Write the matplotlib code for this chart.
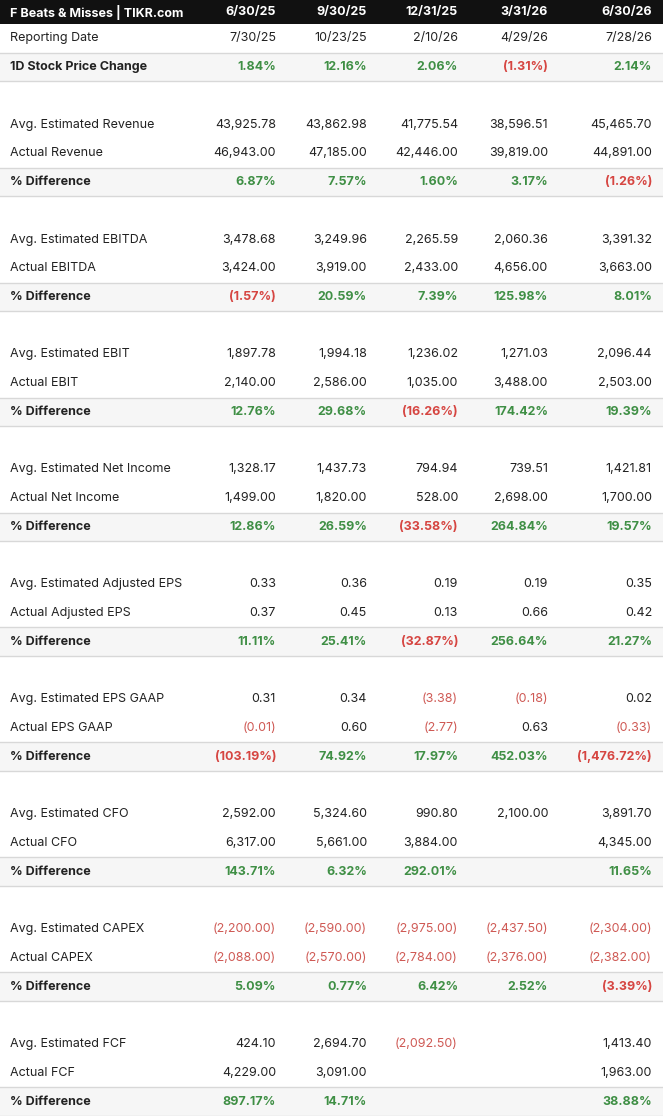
import matplotlib
matplotlib.use('Agg')
import matplotlib.pyplot as plt

# Данные таблицы
title = 'F Beats & Misses | TIKR.com'
periods = ['6/30/25', '9/30/25', '12/31/25', '3/31/26', '6/30/26']
report_dates = ['7/30/25', '10/23/25', '2/10/26', '4/29/26', '7/28/26']
price_change = [1.84, 12.16, 2.06, -1.31, 2.14]

metrics = ['Revenue', 'EBITDA', 'EBIT', 'Net Income', 'Adjusted EPS',
           'EPS GAAP', 'CFO', 'CAPEX', 'FCF']
estimated = [
    [43925.78, 43862.98, 41775.54, 38596.51, 45465.70],
    [3478.68, 3249.96, 2265.59, 2060.36, 3391.32],
    [1897.78, 1994.18, 1236.02, 1271.03, 2096.44],
    [1328.17, 1437.73, 794.94, 739.51, 1421.81],
    [0.33, 0.36, 0.19, 0.19, 0.35],
    [0.31, 0.34, -3.38, -0.18, 0.02],
    [2592.00, 5324.60, 990.80, 2100.00, 3891.70],
    [-2200.00, -2590.00, -2975.00, -2437.50, -2304.00],
    [424.10, 2694.70, -2092.50, None, 1413.40],
]
actual = [
    [46943.00, 47185.00, 42446.00, 39819.00, 44891.00],
    [3424.00, 3919.00, 2433.00, 4656.00, 3663.00],
    [2140.00, 2586.00, 1035.00, 3488.00, 2503.00],
    [1499.00, 1820.00, 528.00, 2698.00, 1700.00],
    [0.37, 0.45, 0.13, 0.66, 0.42],
    [-0.01, 0.60, -2.77, 0.63, -0.33],
    [6317.00, 5661.00, 3884.00, None, 4345.00],
    [-2088.00, -2570.00, -2784.00, -2376.00, -2382.00],
    [4229.00, 3091.00, None, None, 1963.00],
]
pct_diff = [
    [6.87, 7.57, 1.60, 3.17, -1.26],
    [-1.57, 20.59, 7.39, 125.98, 8.01],
    [12.76, 29.68, -16.26, 174.42, 19.39],
    [12.86, 26.59, -33.58, 264.84, 19.57],
    [11.11, 25.41, -32.87, 256.64, 21.27],
    [-103.19, 74.92, 17.97, 452.03, -1476.72],
    [143.71, 6.32, 292.01, None, 11.65],
    [5.09, 0.77, 6.42, 2.52, -3.39],
    [897.17, 14.71, None, None, 38.88],
]

# Оформление
W, H = 663, 1116
head_h = 24
row_h = (H - head_h) / 38
col_right = [276, 367, 458, 548, 652]
label_x = 10
txt = '#222222'
green = '#3f8f45'
red = '#d64541'
red_light = '#cf5a55'
band = '#f6f6f6'
line_c = '#d8d8d8'

plt.rcParams['font.family'] = ['Inter', 'DejaVu Sans']
fs = 9.0

fig = plt.figure(figsize=(W / 100, H / 100), dpi=100)
ax = fig.add_axes([0, 0, 1, 1])
ax.set_xlim(0, W)
ax.set_ylim(H, 0)
ax.axis('off')


def fmt(v, pct=False):
    if v is None:
        return ''
    s = f'{abs(v):,.2f}' + ('%' if pct else '')
    return f'({s})' if v < 0 else s


def shaded(y0):
    ax.add_patch(plt.Rectangle((0, y0), W, row_h, color=band, lw=0, zorder=0))
    ax.plot([0, W], [y0, y0], color=line_c, lw=1, zorder=1)
    ax.plot([0, W], [y0 + row_h, y0 + row_h], color=line_c, lw=1, zorder=1)


def row(i, label, vals, kind):
    y0 = head_h + i * row_h
    yc = y0 + row_h / 2
    bold = kind == 'pct'
    if bold:
        shaded(y0)
    ax.text(label_x, yc, label, ha='left', va='center', fontsize=fs,
            color=txt, fontweight='bold' if bold else 'normal')
    for x, v in zip(col_right, vals):
        if kind == 'str':
            s, c = v, txt
        elif kind == 'pct':
            s = fmt(v, True)
            c = green if (v is not None and v >= 0) else red
        else:
            s = fmt(v)
            c = red_light if (v is not None and v < 0) else txt
        ax.text(x, yc, s, ha='right', va='center', fontsize=fs, color=c,
                fontweight='bold' if bold else 'normal')


# Шапка
ax.add_patch(plt.Rectangle((0, 0), W, head_h, color='#111111', lw=0))
ax.text(label_x, head_h / 2, title, ha='left', va='center', fontsize=fs,
        color='white', fontweight='bold')
for x, p in zip(col_right, periods):
    ax.text(x, head_h / 2, p, ha='right', va='center', fontsize=fs,
            color='white', fontweight='bold')

row(0, 'Reporting Date', report_dates, 'str')
row(1, '1D Stock Price Change', price_change, 'pct')

for g, m in enumerate(metrics):
    base = 2 + g * 4
    row(base + 1, 'Avg. Estimated ' + m, estimated[g], 'num')
    row(base + 2, 'Actual ' + m, actual[g], 'num')
    row(base + 3, '% Difference', pct_diff[g], 'pct')

fig.savefig('out.png', dpi=100)
